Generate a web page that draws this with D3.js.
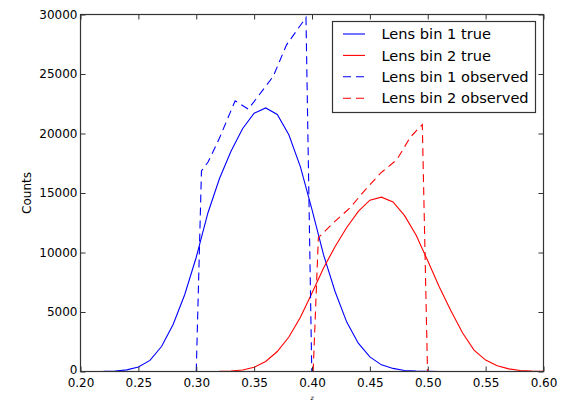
<!DOCTYPE html>
<html lang="en">
<head>
  <meta charset="UTF-8">
  <title>Lens bins</title>
  <style>
    body { margin: 0; background: #fff; }
    text { font-family: "DejaVu Sans", sans-serif; fill: #000; }
  </style>
</head>
<body>
<script src="https://cdn.jsdelivr.net/npm/d3@7"></script>
<script>
  // z grid of the true curves
  const zTrue = [0.20,0.21,0.22,0.23,0.24,0.25,0.26,0.27,0.28,0.29,
                 0.30,0.31,0.32,0.33,0.34,0.35,0.36,0.37,0.38,0.39,
                 0.40,0.41,0.42,0.43,0.44,0.45,0.46,0.47,0.48,0.49,
                 0.50,0.51,0.52,0.53,0.54,0.55,0.56,0.57,0.58,0.59,0.60]
  const bin1True = [0,2,10,40,140,380,930,2100,3950,6450,
                    9600,13300,16200,18500,20400,21700,22150,21600,19900,17200,
                    13600,9800,6700,4150,2380,1230,560,260,90,30,
                    10,3,1,0,0,0,0,0,0,0,0]
  const bin2True = [0,0,0,0,0,0,0,0,0,0,
                    0,3,10,40,130,360,840,1680,2900,4550,
                    6600,8700,10500,12100,13450,14400,14650,14250,13100,11450,
                    9300,7100,5100,3250,1800,960,480,220,90,30,10]

  // observed curves (own z points)
  const obs1Z = [0.300,0.3045,0.3102,0.320,0.3336,0.3449,0.3607,0.3665,0.378,0.3948,0.3998]
  const obs1N = [0,16850,17600,19600,22750,22050,24050,24800,27450,29750,0]
  const obs2Z = [0.401,0.4055,0.4185,0.4329,0.4445,0.459,0.4733,0.485,0.4953,0.4998]
  const obs2N = [0,11250,12500,13760,15100,16650,17800,19700,20750,0]

  const xTicks = [0.20,0.25,0.30,0.35,0.40,0.45,0.50,0.55,0.60]
  const yTicks = [0,5000,10000,15000,20000,25000,30000]
  const legendLabels = ["Lens bin 1 true","Lens bin 2 true","Lens bin 1 observed","Lens bin 2 observed"]

  const width = 567, height = 401
  const x = d3.scaleLinear().domain([0.2, 0.6]).range([80.5, 543.5])
  const y = d3.scaleLinear().domain([0, 30000]).range([371.5, 14.5])

  const svg = d3.select("body").append("svg")
    .attr("width", width).attr("height", height)

  const line = d3.line().x(d => x(d[0])).y(d => y(d[1]))

  const series = [
    {pts: d3.zip(zTrue, bin1True), color: "#0000ff", dash: null},
    {pts: d3.zip(zTrue, bin2True), color: "#ff0000", dash: null},
    {pts: d3.zip(obs1Z, obs1N), color: "#0000ff", dash: "8,5"},
    {pts: d3.zip(obs2Z, obs2N), color: "#ff0000", dash: "8,5"}
  ]

  svg.append("g").selectAll("path")
    .data(series).enter().append("path")
    .attr("d", d => line(d.pts))
    .attr("fill", "none")
    .attr("stroke", d => d.color)
    .attr("stroke-width", 1.1)
    .attr("stroke-dasharray", d => d.dash)

  // axes, ticks point inward on all four sides
  const fmtX = d3.format(".2f")
  svg.append("g").attr("transform", "translate(0,371.5)")
    .call(d3.axisBottom(x).tickValues(xTicks).tickFormat(fmtX).tickSizeInner(-5).tickSizeOuter(0).tickPadding(7))
  svg.append("g").attr("transform", "translate(80.5,0)")
    .call(d3.axisLeft(y).tickValues(yTicks).tickSizeInner(-5).tickSizeOuter(0).tickPadding(3).tickFormat(d3.format("d")))
  svg.append("g").attr("transform", "translate(0,14.5)")
    .call(d3.axisTop(x).tickValues(xTicks).tickFormat("").tickSizeInner(-5).tickSizeOuter(0))
  svg.append("g").attr("transform", "translate(543.5,0)")
    .call(d3.axisRight(y).tickValues(yTicks).tickFormat("").tickSizeInner(-5).tickSizeOuter(0))

  svg.selectAll(".domain").remove()
  svg.selectAll(".tick line").attr("stroke", "#333")
  svg.selectAll(".tick text").attr("font-size", 12).attr("font-family", "DejaVu Sans").attr("fill", "#000")
  // lift the "0" label a little so it clears "0.20"
  svg.selectAll(".tick text").filter(d => d === 0).attr("dy", "0.2em")

  svg.append("rect")
    .attr("x", 80.5).attr("y", 14.5)
    .attr("width", 463).attr("height", 357)
    .attr("fill", "none").attr("stroke", "#333").attr("stroke-width", 1.2)

  svg.append("text")
    .attr("transform", "translate(31,193) rotate(-90)")
    .attr("text-anchor", "middle")
    .attr("font-size", 12)
    .text("Counts")

  svg.append("text")
    .attr("x", 312).attr("y", 400)
    .attr("text-anchor", "middle")
    .attr("font-size", 6).attr("font-style", "italic")
    .attr("fill", "#555")
    .text("z")

  // legend
  const lg = svg.append("g")
  lg.append("rect")
    .attr("x", 332.5).attr("y", 21.5).attr("width", 203).attr("height", 91)
    .attr("fill", "#fff").attr("stroke", "#333").attr("stroke-width", 1.2)
  const rows = lg.selectAll("g.row").data(series).enter().append("g")
    .attr("transform", (d, i) => "translate(0," + (34 + i * 21.4) + ")")
  rows.append("line")
    .attr("x1", 343).attr("x2", 365)
    .attr("stroke", d => d.color).attr("stroke-width", 1.1)
    .attr("stroke-dasharray", d => d.dash)
  rows.append("text")
    .attr("x", 381.5).attr("dy", "0.36em")
    .attr("font-size", 14.6)
    .text((d, i) => legendLabels[i])
</script>
</body>
</html>
